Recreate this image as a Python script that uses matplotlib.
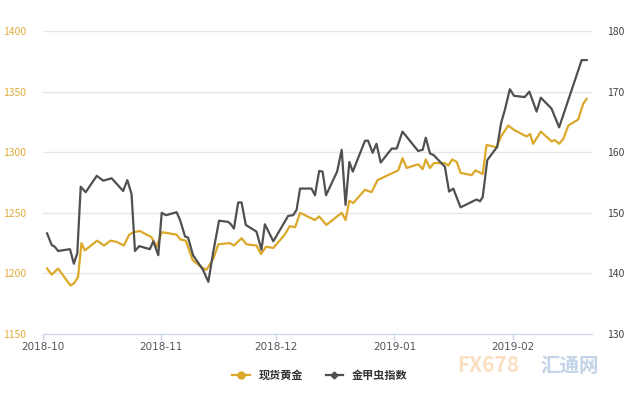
import matplotlib
matplotlib.use("Agg")
import matplotlib.pyplot as plt
import matplotlib.dates as mdates
from matplotlib.lines import Line2D
import pandas as pd

plt.rcParams['font.family'] = ['Noto Sans CJK SC', 'DejaVu Sans']

# days after 2018-10-01
start = pd.Timestamp("2018-10-01")

gold_days = [1.1, 2.3, 4.0, 7.2, 8.2, 9.2, 10.1, 11.0, 14.2, 16.0, 17.7, 19.3, 21.2, 22.6,
             23.8, 25.4, 27.1, 28.4, 29.8, 31.1, 35.0, 36.0, 37.4, 39.2, 41.5, 42.8, 44.6,
             45.9, 48.9, 50.0, 52.0, 53.3, 55.9, 57.1, 58.4, 60.3, 63.3, 64.6, 66.0, 67.3,
             71.2, 72.3, 74.2, 78.2, 79.2, 80.2, 81.2, 84.3, 86.0, 87.6, 93.0, 94.1, 95.2,
             98.2, 99.4, 100.2, 101.3, 102.3, 105.2, 106.1, 107.1, 108.3, 109.3, 112.2,
             113.2, 115.1, 116.1, 118.7, 119.9, 121.8, 122.2, 123.5, 126.6, 127.5, 128.3,
             130.3, 133.1, 134.0, 135.1, 136.2, 137.5, 140.1, 141.4, 142.3]
gold = [1204, 1199, 1204, 1190, 1192, 1197, 1225, 1219, 1227, 1223, 1227, 1226, 1223, 1232,
        1234, 1235, 1232, 1230, 1222, 1234, 1232, 1228, 1227, 1211, 1205, 1203, 1212,
        1224, 1225, 1223, 1229, 1224, 1223, 1216, 1222, 1221, 1232, 1239, 1238, 1250,
        1244, 1247, 1240, 1250, 1244, 1260, 1258, 1269, 1267, 1277, 1285, 1295, 1287,
        1290, 1286, 1294, 1287, 1291, 1291, 1289, 1294, 1292, 1283, 1281,
        1285, 1282, 1306, 1304, 1313, 1322, 1321, 1318, 1313, 1315, 1307,
        1317, 1309, 1310, 1307, 1311, 1322, 1327, 1340, 1344]

bug_days = [1.1, 2.3, 3.1, 4.0, 7.1, 8.1, 9.0, 9.9, 11.2, 14.1, 15.8, 18.0, 21.0, 22.1,
            23.2, 24.1, 25.2, 28.0, 28.9, 30.2, 31.1, 32.2, 35.0, 35.9, 37.2, 38.0, 39.3,
            41.9, 43.3, 44.6, 46.1, 48.5, 49.2, 50.0, 51.1, 52.0, 53.1, 55.9, 57.2, 58.1,
            60.3, 64.2, 65.5, 66.4, 67.3, 70.3, 71.2, 72.3, 73.2, 74.1, 77.0, 78.2, 79.2,
            80.2, 81.1, 84.3, 85.1, 86.3, 87.3, 88.4, 91.3, 92.6, 94.1, 98.2, 99.4, 100.2,
            101.3, 102.3, 105.2, 106.3, 107.4, 109.3, 113.5, 114.4, 115.1, 116.3, 118.9,
            119.9, 120.9, 122.2, 123.3, 126.1, 127.3, 129.2, 130.3, 133.1, 135.1, 141.0, 142.3]
bug = [146.6, 144.7, 144.4, 143.7, 144.0, 141.6, 143.3, 154.3, 153.4, 156.1, 155.3, 155.7, 153.6, 155.4,
       153.1, 143.7, 144.5, 144.0, 145.3, 143.0, 150.0, 149.6, 150.1, 148.8, 146.1, 145.9, 143.0,
       140.6, 138.6, 143.6, 148.7, 148.5, 148.1, 147.4, 151.7, 151.7, 148.0, 146.9, 143.9, 148.1,
       145.3, 149.5, 149.6, 150.5, 154.0, 154.0, 152.9, 156.9, 156.8, 152.9, 156.8, 160.4, 151.3,
       158.4, 156.8, 161.9, 161.9, 159.9, 161.4, 158.3, 160.6, 160.6, 163.4, 160.2, 160.4, 162.4,
       159.8, 159.5, 157.6, 153.5, 154.0, 150.9, 152.2, 151.9, 152.6, 158.7, 160.9,
       164.8, 167.0, 170.4, 169.3, 169.1, 170.0, 166.7, 169.0, 167.2, 164.1, 175.2, 175.2]

gold_dates = start + pd.to_timedelta(gold_days, unit="D")
bug_dates = start + pd.to_timedelta(bug_days, unit="D")

gold_color = "#dca82a"
bug_color = "#505050"
axis_color = "#ccd6eb"

fig = plt.figure(figsize=(6.4, 4), dpi=100)
ax = fig.add_axes([0.067, 0.165, 0.858, 0.7575])
ax2 = ax.twinx()

ax.plot(gold_dates, gold, color=gold_color, lw=1.6, zorder=3)
ax2.plot(bug_dates, bug, color=bug_color, lw=1.6, zorder=3)

ax.set_ylim(1150, 1400)
ax.set_yticks(range(1150, 1401, 50))
ax2.set_ylim(130, 180)
ax2.set_yticks(range(130, 181, 10))
ax.set_xlim(start, start + pd.Timedelta(days=143.7))

ax.xaxis.set_major_locator(mdates.MonthLocator())
ax.xaxis.set_major_formatter(mdates.DateFormatter("%Y-%m"))

ax.grid(axis="y", color="#e6e6e6", lw=1)
ax.set_axisbelow(True)
for a in (ax, ax2):
    for s in a.spines.values():
        s.set_visible(False)
ax.spines["bottom"].set_visible(True)
ax.spines["bottom"].set_color(axis_color)

ax.tick_params(axis="x", colors=axis_color, length=4.5, width=1, labelcolor="#555555",
               labelsize=7.5, pad=1.5)
ax.tick_params(axis="y", length=0, labelcolor="#e0ac3c", labelsize=7.5, pad=12)
ax2.tick_params(axis="y", length=0, labelcolor="#444444", labelsize=7.5, pad=11)
for t in ax.get_xticklabels():
    t.set_family(["DejaVu Sans"])

handles = [Line2D([], [], color=gold_color, lw=1.6, marker="o", markersize=5),
           Line2D([], [], color=bug_color, lw=1.6, marker="D", markersize=3.5)]
leg = fig.legend(handles, ["现货黄金", "金甲虫指数"], loc="center",
                 bbox_to_anchor=(0.5, 0.062), ncol=2, frameon=False, fontsize=8,
                 handlelength=1.6, columnspacing=2.0)
for t in leg.get_texts():
    t.set_color("#333333")
    t.set_fontweight("bold")

# watermark
fig.text(0.715, 0.085, "FX678", color="#f8d2a8", fontsize=15, alpha=0.7,
         fontweight="bold", ha="left", va="center")
fig.text(0.845, 0.085, "汇通网", color="#a9c0dd", fontsize=14, alpha=0.7,
         fontweight="bold", ha="left", va="center")

fig.savefig("out.png", dpi=100)
